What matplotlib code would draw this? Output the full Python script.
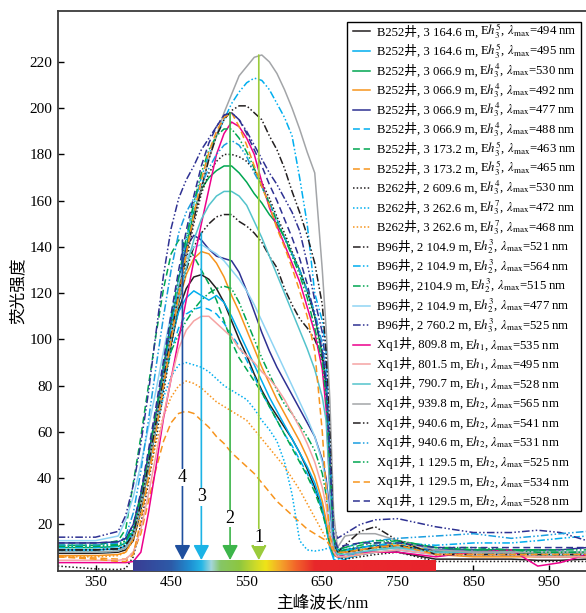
import numpy as np
import matplotlib
matplotlib.use('Agg')
import matplotlib.pyplot as plt
from matplotlib.colors import LinearSegmentedColormap
from matplotlib.lines import Line2D
from matplotlib.offsetbox import TextArea, DrawingArea, HPacker, VPacker, AnchoredOffsetbox

plt.rcParams['font.family'] = ['Liberation Serif', 'Noto Sans CJK SC']
plt.rcParams['mathtext.fontset'] = 'stix'

# wavelength grid (nm) shared by all spectra
wavelength = [300, 350, 380, 390, 400, 410, 420, 430, 440, 450, 460, 470, 480, 490,
              500, 510, 520, 530, 540, 550, 560, 570, 580, 590, 600, 610, 620, 630,
              640, 650, 655, 660, 665, 670, 680, 700, 720, 750, 800, 850, 900, 935,
              965, 1000]

# fluorescence intensity of each sample
b252_494 = [7.5, 7.5, 8, 9, 13, 26, 44, 62, 80, 98, 113, 122, 127, 128, 126, 122, 116, 108, 100, 93, 85, 78, 72, 67, 62, 57, 51, 44, 36, 26, 20, 11, 7, 6, 6, 7, 8, 8, 5, 5, 5, 4.5, 4.5, 5]
b252_495 = [9, 9, 9.5, 10.5, 15, 29, 46, 64, 83, 100, 112, 118, 121, 119, 117, 119, 116, 110, 103, 96, 89, 82, 75, 69, 63, 57, 51, 45, 38, 28, 20, 10, 5, 4, 5, 7, 8, 9, 7, 7, 7, 6, 6, 6]
b252_530 = [10, 10, 10.5, 12, 17, 31, 48, 66, 86, 106, 124, 140, 155, 165, 170, 173, 175, 175, 172, 168, 163, 159, 154, 150, 144, 137, 130, 121, 110, 93, 80, 45, 12, 8, 8, 9, 10, 11, 8, 8, 8, 7, 7, 7]
b252_492 = [6.5, 6.5, 7, 8, 14, 28, 45, 63, 82, 100, 116, 128, 135, 138, 137, 133, 127, 119, 112, 104, 96, 88, 81, 74, 68, 62, 56, 49, 41, 30, 22, 12, 7, 6, 6, 7, 9, 10, 7, 6, 6, 6, 6, 6]
b252_477 = [12, 12, 12.5, 14, 20, 33, 50, 68, 88, 108, 126, 140, 145, 143, 139, 136, 135, 134, 129, 121, 112, 103, 95, 88, 82, 76, 70, 64, 58, 48, 40, 25, 10, 8, 9, 10, 11, 10, 9, 9, 9, 9, 9, 10]
b252_488 = [9, 9, 9.5, 10.5, 15, 28, 45, 63, 80, 95, 105, 111, 113, 114, 113, 111, 107, 102, 97, 91, 84, 77, 71, 65, 59, 54, 48, 42, 35, 26, 19, 10, 6, 5, 6, 8, 9, 11, 9, 8, 7, 7, 7, 7]
b252_463 = [11, 11, 13, 18, 38, 58, 80, 102, 122, 137, 143, 141, 136, 130, 124, 117, 108, 99, 92, 87, 82, 77, 71, 65, 59, 53, 47, 41, 34, 25, 19, 11, 7, 7, 8, 10, 11, 12, 10, 9, 9, 9, 8, 8]
b252_465 = [6, 5.5, 5, 5, 8, 16, 30, 44, 56, 64, 68, 69, 68, 65, 62, 58, 55, 51, 48, 45, 42, 38, 34, 30, 27, 24, 21, 18, 16, 14, 13, 11, 9, 8, 8, 9, 10, 12, 8, 7, 7, 7, 7, 7]
b262_530 = [2, 0.8, 0.5, 1, 6, 20, 38, 57, 77, 97, 116, 134, 150, 163, 172, 177, 180, 180, 179, 177, 173, 168, 161, 153, 146, 138, 130, 121, 110, 95, 82, 50, 12, 6, 5, 6, 7, 8, 4, 4, 4, 4, 4, 4]
b262_472 = [8, 8, 8.5, 10, 16, 30, 46, 62, 75, 84, 89, 90, 89, 88, 86, 83, 80, 78, 76, 74, 70, 65, 61, 56, 47, 33, 13, 9, 8.5, 9, 9.5, 10, 10, 10, 9, 9, 10, 11, 8, 8, 7, 7, 7, 7]
b262_468 = [6, 6, 6.5, 8, 13, 25, 40, 55, 67, 75, 80, 82, 81, 79, 76, 73, 71, 69, 67, 65, 61, 57, 53, 49, 45, 40, 35, 29, 23, 17, 14, 11, 8, 7, 7, 8, 9, 11, 7, 7, 7, 7, 7, 7]
b96_521 = [9, 9, 9.5, 11, 16, 29, 46, 64, 83, 100, 116, 130, 140, 146, 150, 153, 154, 154, 151, 149, 146, 142, 136, 131, 122, 115, 109, 105, 100, 92, 80, 45, 12, 8, 8, 9, 10, 11, 8, 7, 7, 7, 7, 7]
b96_564 = [10, 10, 10.5, 12, 17, 30, 47, 65, 85, 105, 125, 143, 158, 170, 180, 188, 195, 202, 207, 211, 213, 212, 208, 202, 196, 188, 170, 150, 120, 108, 95, 55, 15, 9, 9, 10, 11, 12, 11, 12, 12, 13, 14, 15]
b96_515 = [11, 11, 11.5, 13, 18, 31, 48, 66, 83, 95, 102, 108, 113, 117, 120, 122, 123, 122, 116, 108, 100, 92, 85, 78, 72, 68, 63, 58, 52, 42, 33, 18, 9, 8, 9, 11, 12, 13, 10, 10, 9, 9, 9, 9]
b96_477 = [13, 13, 15, 22, 32, 46, 62, 78, 95, 111, 125, 135, 140, 141, 139, 137, 134, 130, 126, 121, 115, 108, 101, 94, 87, 80, 73, 66, 58, 47, 38, 22, 10, 7, 7, 8, 9, 10, 7, 7, 7, 7, 7, 7]
b96_525 = [14.5, 14.5, 17, 24, 37, 55, 77, 103, 128, 148, 161, 169, 175, 182, 187, 192, 197, 198, 195, 190, 184, 178, 172, 167, 161, 155, 147, 133, 117, 103, 88, 55, 20, 14, 16, 20, 22, 22.5, 19, 16.5, 16.5, 17.5, 16.5, 13]
xq1_535 = [3.5, 3.5, 3.5, 3.5, 4, 8, 25, 45, 66, 83, 100, 117, 134, 150, 165, 180, 189, 194, 192, 187, 180, 168, 157, 149, 141, 133, 125, 114, 103, 87, 70, 35, 10, 6, 7, 8, 8, 8, 6, 8, 9, 2, 3.5, 7]
xq1_495 = [4.5, 4.5, 4.5, 5, 8, 18, 33, 50, 67, 83, 96, 104, 108, 110, 110, 107, 104, 101, 96, 93, 90, 86, 83, 79, 74, 68, 62, 55, 47, 36, 28, 16, 8, 6, 6, 7, 8, 9, 7, 7, 7, 6, 6, 6]
xq1_528 = [8, 8, 8.5, 10, 15, 28, 45, 63, 82, 100, 117, 131, 143, 152, 158, 162, 164, 164, 162, 158, 151, 144, 136, 128, 120, 112, 104, 96, 87, 75, 65, 35, 10, 7, 7, 8, 9, 10, 8, 8, 8, 8, 8, 8]
xq1_565 = [8, 8, 8.5, 10, 15, 29, 46, 64, 83, 102, 120, 137, 152, 166, 178, 188, 198, 206, 214, 218, 222, 223, 220, 215, 208, 200, 191, 181, 172, 130, 105, 74, 25, 10, 15, 16, 16, 13, 9, 8, 8, 8, 8, 8]
xq1_541 = [9, 9, 9.5, 11, 16, 29, 46, 64, 83, 102, 120, 137, 152, 165, 178, 188, 195, 199, 201, 201, 198, 195, 188, 182, 174, 164, 155, 145, 133, 115, 95, 60, 15, 8, 11, 17, 19, 13, 7, 7, 7, 7, 7, 7]
xq1_531 = [11, 11, 12, 15, 25, 43, 65, 88, 110, 130, 146, 155, 161, 167, 174, 180, 184, 186, 184, 179, 172, 166, 159, 152, 144, 137, 130, 121, 112, 98, 85, 50, 14, 9, 10, 12, 13, 14, 15, 16, 14, 15, 16, 17]
xq1_525 = [10.5, 10.5, 11, 13, 19, 33, 50, 69, 89, 109, 127, 144, 159, 172, 182, 188, 191, 191, 187, 181, 174, 166, 159, 151, 144, 136, 128, 118, 105, 90, 75, 45, 14, 9, 10, 12, 13, 13, 10, 9, 9, 8, 8, 8]
xq1_534 = [6, 5, 4, 4, 7, 22, 40, 60, 80, 100, 119, 137, 154, 169, 181, 190, 196, 198, 192, 184, 175, 166, 158, 148, 140, 131, 121, 110, 95, 60, 35, 15, 9, 8, 8, 9, 10, 11, 7, 7, 7, 7, 7, 7]
xq1_528b = [12, 12, 12.5, 14, 20, 34, 52, 71, 91, 111, 130, 147, 162, 175, 185, 192, 197, 198, 195, 189, 182, 175, 167, 160, 152, 144, 135, 124, 110, 95, 82, 50, 15, 10, 11, 12, 12, 12, 10, 10, 10, 10, 10, 10]

spectra = [b252_494, b252_495, b252_530, b252_492, b252_477, b252_488, b252_463,
           b252_465, b262_530, b262_472, b262_468, b96_521, b96_564, b96_515,
           b96_477, b96_525, xq1_535, xq1_495, xq1_528, xq1_565, xq1_541, xq1_531,
           xq1_525, xq1_534, xq1_528b]

# sample descriptions for the key
wells = ['B252'] * 8 + ['B262'] * 3 + ['B96'] * 5 + ['Xq1'] * 9
depths = ['3 164.6', '3 164.6', '3 066.9', '3 066.9', '3 066.9', '3 066.9', '3 173.2',
          '3 173.2', '2 609.6', '3 262.6', '3 262.6', '2 104.9', '2 104.9', '2104.9',
          '2 104.9', '2 760.2', '809.8', '801.5', '790.7', '939.8', '940.6', '940.6',
          '1 129.5', '1 129.5', '1 129.5']
zones = ['h_3^5', 'h_3^5', 'h_3^4', 'h_3^4', 'h_3^4', 'h_3^4', 'h_3^5', 'h_3^5',
         'h_3^4', 'h_3^7', 'h_3^7', 'h_2^3', 'h_2^3', 'h_2^3', 'h_2^3', 'h_3^3',
         'h_1', 'h_1', 'h_1', 'h_2', 'h_2', 'h_2', 'h_2', 'h_2', 'h_2']
lambda_max = [494, 495, 530, 492, 477, 488, 463, 465, 530, 472, 468, 521, 564, 515,
              477, 525, 535, 495, 528, 565, 541, 531, 525, 534, 528]

# arrows marking the main peak positions
arrow_wl = [566, 528, 490, 465]
arrow_top = [223, 198, 146, 143]
arrow_text_y = [14.4, 22.6, 32, 40.3]
arrow_names = ['1', '2', '3', '4']

BLACK = '#231f20'
CYAN = '#00aeef'
GREEN = '#00a651'
ORANGE = '#f7941d'
NAVY = '#2e3192'
solid = '-'
dashed = (0, (4.5, 2.5))
dotted = (0, (1, 1.4))
dashdotdot = (0, (5, 1.5, 1, 1.5, 1, 1.5))

colors = [BLACK, CYAN, GREEN, ORANGE, NAVY, CYAN, GREEN, ORANGE, BLACK, CYAN, ORANGE,
          BLACK, CYAN, GREEN, '#8fd4f4', NAVY, '#ec008c', '#f5a3a3', '#54c3cc',
          '#a3a5a8', BLACK, '#1a9ee0', GREEN, ORANGE, NAVY]
styles = [solid, solid, solid, solid, solid, dashed, dashed, dashed, dotted, dotted, dotted,
          dashdotdot, dashdotdot, dashdotdot, solid, dashdotdot, solid, solid, solid,
          solid, dashdotdot, dashdotdot, dashdotdot, dashed, dashed]

arrow_colors = ['#9bcb3c', '#3db54a', '#1cb3e6', '#1f4f9e']

spectrum_stops = [(400, '#3a3d94'), (450, '#2d5ba8'), (475, '#1f8fd2'), (490, '#25b6e6'),
                  (503, '#a5d6dc'), (515, '#86c667'), (540, '#8dc640'), (560, '#c9d92b'),
                  (575, '#efe418'), (595, '#f4a42a'), (615, '#f2652a'), (640, '#e8282b'),
                  (800, '#e8232b')]

fig = plt.figure(figsize=(5.86, 6.13), dpi=100)
ax = fig.add_axes([0.0985, 0.069, 0.903, 0.913])

for y, c, ls in zip(spectra, colors, styles):
    ax.plot(wavelength, y, color=c, ls=ls, lw=1.1, zorder=2)

# visible spectrum strip along the bottom
spec_cmap = LinearSegmentedColormap.from_list(
    'spec', [((w - 400) / 400, c) for w, c in spectrum_stops])
ax.imshow(np.linspace(0, 1, 512).reshape(1, -1), cmap=spec_cmap,
          extent=[400, 800, 0, 4.6], aspect='auto', zorder=3)

for wl, top, ty, name, c in zip(arrow_wl, arrow_top, arrow_text_y, arrow_names, arrow_colors):
    ax.annotate('', xy=(wl, 4.6), xytext=(wl, top),
                arrowprops=dict(arrowstyle='-|>,head_length=0.6,head_width=0.32',
                                mutation_scale=15, color=c, lw=1.2,
                                shrinkA=0, shrinkB=0), zorder=4)
    ax.text(wl, ty, name, ha='center', va='center', fontsize=13, zorder=5,
            bbox=dict(facecolor='white', edgecolor='none', pad=0.3))

ax.set_xlim(300, 1000)
ax.set_ylim(0, 242)
ax.set_xticks([350, 450, 550, 650, 750, 850, 950])
ax.set_yticks(range(20, 221, 20))
ax.tick_params(direction='in', length=4, width=1, labelsize=11, pad=4)
for s in ax.spines.values():
    s.set_color('#3c3c3c')
    s.set_linewidth(1.3)

ax.set_xlabel('主峰波长/nm', fontsize=12, labelpad=4)
ax.set_ylabel('荧光强度', fontsize=12, labelpad=2)

# key: plain text part (with the CJK well name) followed by the mathtext part
key_size = 9.2
lead, handle_w, row_h = 4.8, 12.3, 14.1
rows = []
for w, d, z, lm, c, ls in zip(wells, depths, zones, lambda_max, colors, styles):
    da = DrawingArea(lead + handle_w, row_h, 0, 0)
    da.add_artist(Line2D([lead, lead + handle_w], [row_h / 2, row_h / 2],
                         color=c, ls=ls, lw=1.1))
    name = TextArea(f'{w}井, {d} m,',
                    textprops=dict(size=key_size, family=['Liberation Serif', 'Noto Sans CJK SC']))
    math = TextArea(rf'E${z}$, $\lambda_{{\rm max}}$={lm} nm', textprops=dict(size=key_size))
    text = HPacker(children=[name, math], align='baseline', pad=0, sep=1)
    entry = HPacker(children=[da, text], align='center', pad=0, sep=5)
    rows.append(HPacker(children=[entry, DrawingArea(3.5, row_h, 0, 0)],
                        align='center', pad=0, sep=0))
key = AnchoredOffsetbox(loc='upper left', child=VPacker(children=rows, align='left', pad=0, sep=0),
                        pad=0, borderpad=0, frameon=True, prop=dict(size=key_size),
                        bbox_to_anchor=(0.546, 0.981), bbox_transform=ax.transAxes)
key.patch.set_edgecolor('black')
key.patch.set_linewidth(1.0)
key.set_zorder(6)
ax.add_artist(key)

fig.savefig('out.png', dpi=100)
